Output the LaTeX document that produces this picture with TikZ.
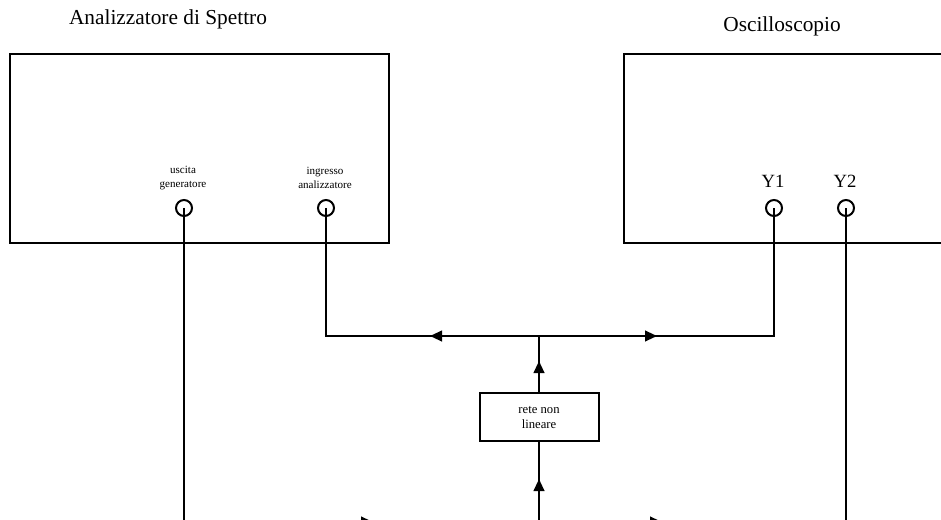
\documentclass[tikz,border=0pt]{standalone}
\usepackage{fontspec}
\setmainfont{Liberation Serif}
\usetikzlibrary{arrows.meta}
\begin{document}
\begin{tikzpicture}[x=0.75pt,y=-0.75pt,
  wire/.style={line width=1.5pt},
  arr/.style={line width=1.5pt,-{Triangle[length=9pt,width=8pt]}},
  box/.style={draw,line width=1.5pt,inner sep=0pt},
  port/.style={circle,draw,line width=1.5pt,minimum size=12pt,inner sep=0pt},
  title/.style={font=\fontsize{16}{19}\selectfont},
  small/.style={font=\fontsize{8.3}{10}\selectfont,align=center},
  ylab/.style={font=\fontsize{14}{16}\selectfont}]
\useasboundingbox (0,0) rectangle (941,520);
\clip (0,0) rectangle (941,520);
% instruments
\node[box,anchor=north west,minimum width=284.25pt,minimum height=141.75pt] (sa) at (9,53) {};
\node[box,anchor=north west,minimum width=285pt,minimum height=141.75pt] (osc) at (623,53) {};
\node[title] (tsa) at (168,19) {Analizzatore di Spettro};
\node[title] (tosc) at (782,26) {Oscilloscopio};
% ports
\node[port] (gen) at (184,208) {};
\node[port] (ing) at (326,208) {};
\node[port] (y1) at (774,208) {};
\node[port] (y2) at (846,208) {};
\node[small] (lgen) at (183,178) {uscita\\generatore};
\node[small] (ling) at (325,178) {ingresso\\analizzatore};
\node[ylab] (ly1) at (773,181) {Y1};
\node[ylab] (ly2) at (845,181) {Y2};
% network
\node[box,minimum width=89.25pt,minimum height=36pt,align=center,
  font=\fontsize{9.5}{11.25}\selectfont] (rete) at (539,417) {rete non\\lineare};
% top distribution
\coordinate (hub) at (539,336);
\coordinate (tipL) at (430,336);
\coordinate (tipR) at (657,336);
\coordinate (tipU) at (539,361);
\draw[wire] (ing.center) |- (hub) -| (y1.center);
\draw[arr] (hub) -- (tipL);
\draw[arr] (hub) -- (tipR);
\draw[wire] (rete.north) -- (hub);
\draw[arr] (rete.north) -- (tipU);
% bottom distribution
\coordinate (bl) at (184,522);
\coordinate (br) at (846,522);
\coordinate (bm) at (539,522);
\coordinate (tipB1) at (373,522);
\coordinate (tipB2) at (662,522);
\coordinate (tipD) at (539,479);
\draw[wire] (gen.center) -- (bl) -- (br) -- (y2.center);
\draw[wire] (bm) -- (rete.south);
\draw[arr] (bm) -- (tipD);
\draw[arr] (bl) -- (tipB1);
\draw[arr] (bl) -- (tipB2);
\end{tikzpicture}
\end{document}
